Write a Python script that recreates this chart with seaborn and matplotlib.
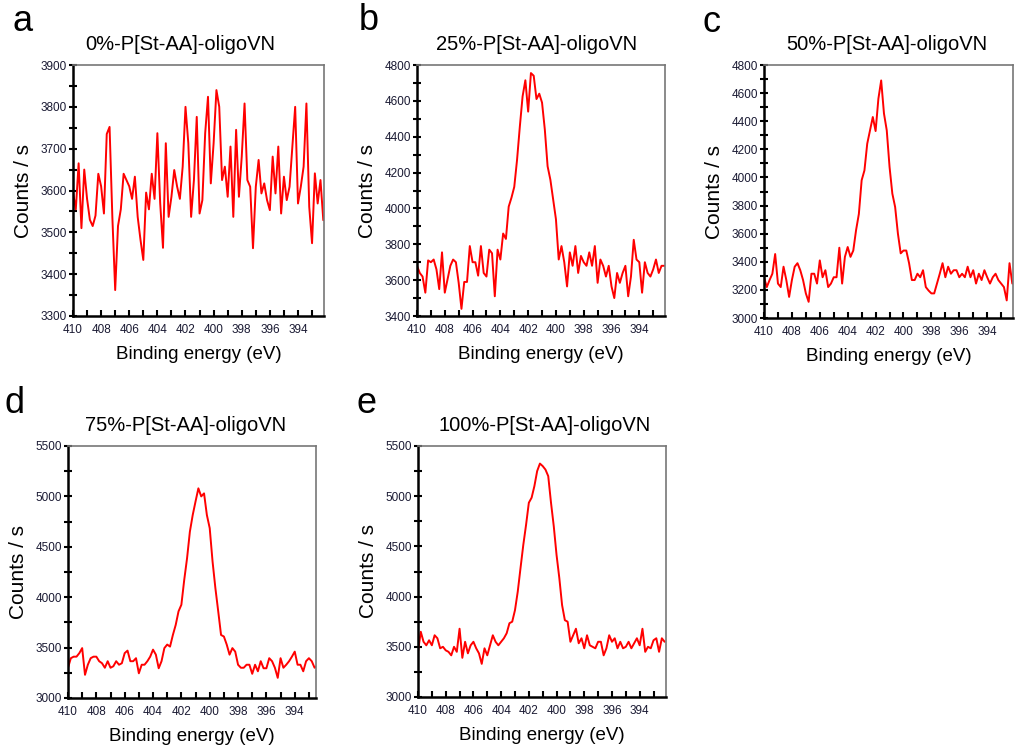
import numpy as np
import matplotlib.pyplot as plt
import seaborn as sns
from matplotlib.ticker import MultipleLocator

sns.set_style("ticks")
plt.rcParams['font.family'] = ['Liberation Sans', 'DejaVu Sans']
plt.rcParams['text.color'] = 'black'
plt.rcParams['axes.labelcolor'] = 'black'

# binding energy scan grid (eV), 0.2 eV steps from 410 down to 392.2
energy = np.round(np.arange(410.0, 392.1, -0.2), 1)

# counts / s, one list per sample
counts_0 = [3595, 3555, 3665, 3510, 3650, 3580, 3530, 3515, 3540, 3640,
            3610, 3545, 3735, 3752, 3535, 3362, 3515, 3555, 3640, 3625,
            3610, 3580, 3633, 3537, 3482, 3434, 3595, 3555, 3640, 3580,
            3737, 3570, 3463, 3713, 3537, 3585, 3649, 3610, 3580, 3657,
            3800, 3713, 3537, 3625, 3776, 3545, 3577, 3737, 3824, 3617,
            3713, 3840, 3800, 3625, 3657, 3585, 3705, 3537, 3745, 3585,
            3681, 3808, 3625, 3609, 3462, 3609, 3673, 3593, 3617, 3577,
            3553, 3681, 3593, 3705, 3545, 3633, 3577, 3609, 3705, 3800,
            3569, 3609, 3657, 3808, 3561, 3474, 3641, 3569, 3625, 3529]

counts_25 = [3680, 3640, 3620, 3530, 3710, 3700, 3715, 3660, 3550, 3755,
             3530, 3605, 3680, 3715, 3700, 3585, 3440, 3590, 3590, 3790,
             3700, 3700, 3625, 3790, 3640, 3620, 3770, 3750, 3510, 3770,
             3715, 3860, 3830, 4010, 4060, 4120, 4270, 4455, 4625, 4715,
             4540, 4755, 4740, 4610, 4640, 4590, 4440, 4235, 4160, 4050,
             3940, 3715, 3790, 3700, 3565, 3755, 3680, 3790, 3640, 3735,
             3700, 3680, 3755, 3680, 3790, 3585, 3715, 3680, 3620, 3680,
             3565, 3500, 3640, 3585, 3640, 3680, 3510, 3620, 3825, 3715,
             3700, 3530, 3700, 3640, 3620, 3660, 3715, 3640, 3680, 3680]

counts_50 = [3290, 3220, 3270, 3315, 3455, 3245, 3220, 3365, 3270, 3150,
             3270, 3365, 3390, 3340, 3270, 3175, 3115, 3315, 3315, 3245,
             3410, 3290, 3340, 3220, 3245, 3290, 3290, 3500, 3245, 3435,
             3505, 3435, 3480, 3625, 3740, 3980, 4050, 4240, 4335, 4430,
             4330, 4560, 4690, 4455, 4335, 4075, 3885, 3790, 3600, 3460,
             3480, 3480, 3390, 3270, 3270, 3315, 3290, 3340, 3220, 3195,
             3175, 3175, 3245, 3315, 3390, 3290, 3365, 3315, 3340, 3340,
             3290, 3315, 3290, 3365, 3290, 3340, 3245, 3315, 3270, 3340,
             3290, 3245, 3290, 3315, 3270, 3245, 3220, 3125, 3390, 3245]

counts_75 = [3300, 3395, 3410, 3410, 3445, 3495, 3230, 3330, 3395, 3410,
             3410, 3365, 3345, 3300, 3365, 3300, 3315, 3365, 3330, 3345,
             3445, 3470, 3365, 3365, 3395, 3245, 3330, 3330, 3365, 3410,
             3480, 3430, 3295, 3365, 3495, 3530, 3510, 3625, 3725, 3860,
             3925, 4170, 4385, 4650, 4815, 4950, 5080, 5000, 5030, 4815,
             4685, 4355, 4090, 3860, 3625, 3610, 3530, 3430, 3495, 3460,
             3330, 3300, 3300, 3330, 3330, 3240, 3330, 3265, 3365, 3295,
             3295, 3395, 3365, 3300, 3200, 3395, 3300, 3330, 3365, 3410,
             3460, 3330, 3330, 3265, 3365, 3395, 3365, 3300, 3320, 3300]

counts_100 = [3450, 3650, 3550, 3515, 3565, 3515, 3615, 3585, 3485, 3500,
              3465, 3450, 3415, 3500, 3450, 3680, 3390, 3550, 3435, 3515,
              3550, 3485, 3435, 3330, 3485, 3415, 3515, 3615, 3550, 3515,
              3550, 3585, 3635, 3735, 3750, 3865, 4050, 4285, 4515, 4715,
              4935, 4985, 5100, 5250, 5325, 5300, 5265, 5200, 4935, 4700,
              4415, 4185, 3915, 3765, 3750, 3550, 3615, 3680, 3535, 3585,
              3485, 3615, 3515, 3500, 3485, 3550, 3550, 3415, 3485, 3615,
              3550, 3585, 3485, 3550, 3485, 3500, 3550, 3485, 3535, 3585,
              3515, 3680, 3450, 3500, 3485, 3565, 3585, 3450, 3585, 3550]

titles = ['0%-P[St-AA]-oligoVN', '25%-P[St-AA]-oligoVN', '50%-P[St-AA]-oligoVN',
          '75%-P[St-AA]-oligoVN', '100%-P[St-AA]-oligoVN']
letters = ['a', 'b', 'c', 'd', 'e']
series = [counts_0, counts_25, counts_50, counts_75, counts_100]
y_limits = [(3300, 3900), (3400, 4800), (3000, 4800), (3000, 5500), (3000, 5500)]
y_major = [100, 200, 200, 500, 500]
y_minor = [50, 100, 100, 250, 250]
x_right = [392.15, 392.15, 392.15, 392.5, 392.1]

W, H = 1017, 753
# axes boxes in pixels: left, top, right, bottom
boxes = [(73, 65, 324, 316), (417, 65, 665, 316), (764, 65, 1013, 318),
         (68, 446, 316, 698), (418, 446, 666, 697)]
title_x = [0.426, 0.484, 0.494, 0.476, 0.512]
letter_pos = [(12, 31), (359, 30), (702, 32), (5, 413), (357, 413)]

fig = plt.figure(figsize=(W / 100, H / 100), dpi=100)

for i in range(5):
    l, t, r, b = boxes[i]
    ax = fig.add_axes([l / W, 1 - b / H, (r - l) / W, (b - t) / H])
    sns.lineplot(x=energy, y=series[i], ax=ax, color='#ff0000', linewidth=1.4)
    ax.set_xlim(410, x_right[i])
    ax.set_ylim(*y_limits[i])
    ax.xaxis.set_major_locator(MultipleLocator(2))
    ax.xaxis.set_minor_locator(MultipleLocator(1))
    ax.yaxis.set_major_locator(MultipleLocator(y_major[i]))
    ax.yaxis.set_minor_locator(MultipleLocator(y_minor[i]))
    ax.tick_params(axis='x', which='both', direction='in', length=4, width=1.5,
                   labelsize=8.5, pad=6, colors='black', labelcolor='#1a1a33')
    ax.tick_params(axis='y', which='both', direction='inout', length=6, width=1.5,
                   labelsize=8.5, pad=1.5, colors='black', labelcolor='#1a1a33')
    for side in ['left', 'bottom']:
        ax.spines[side].set_color('black')
        ax.spines[side].set_linewidth(1.8)
    for side in ['top', 'right']:
        ax.spines[side].set_visible(True)
        ax.spines[side].set_color('#777777')
        ax.spines[side].set_linewidth(1.2)
    ttl = ax.set_title(titles[i], fontsize=14.5, pad=11, color='black')
    ttl.set_x(title_x[i])
    ax.set_xlabel('Binding energy (eV)', fontsize=13.5, labelpad=7, color='black')
    ax.set_ylabel('Counts / s', fontsize=15, labelpad=5, color='black')
    lx, ly = letter_pos[i]
    fig.text(lx / W, 1 - ly / H, letters[i], fontsize=26, va='baseline',
             ha='left', color='black')

fig.savefig('out.png', dpi=100)
